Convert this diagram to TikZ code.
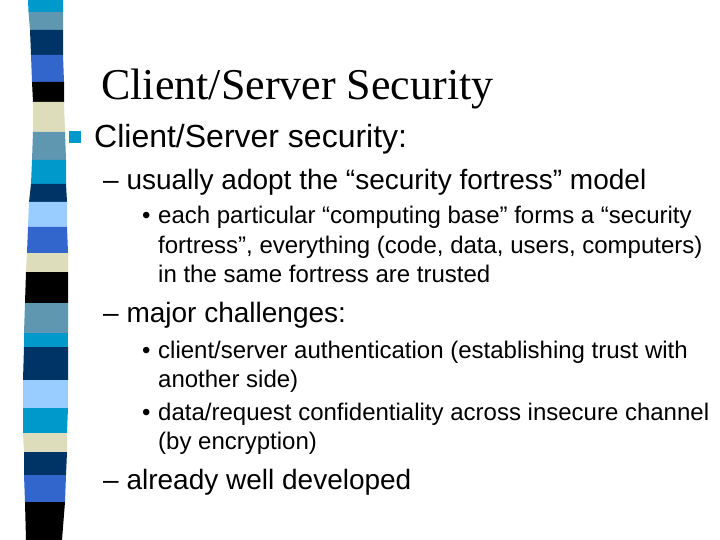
\documentclass[tikz,border=0pt]{standalone}
\usepackage{fontspec}
\setmainfont{Liberation Sans}
\newfontfamily\titlefont{Liberation Serif}
\definecolor{cy}{HTML}{0099CC}\definecolor{st}{HTML}{5F97B0}\definecolor{nv}{HTML}{003366}
\definecolor{ro}{HTML}{3366CC}\definecolor{bk}{HTML}{000000}\definecolor{be}{HTML}{DDDDBB}
\definecolor{lb}{HTML}{99CCFF}
\begin{document}
\begin{tikzpicture}[x=1pt,y=-1pt,
  t/.style={anchor=base west,inner sep=0pt,font=\fontsize{28}{32}\selectfont},
  s/.style={anchor=base west,inner sep=0pt,font=\fontsize{24}{28}\selectfont}]
\useasboundingbox[fill=white] (0,0) rectangle (720,540);
\def\band#1#2#3#4#5#6#7{\fill[#1] (#2,#6) -- (#3,#6) -- (#5,#7) -- (#4,#7) -- cycle;}
\band{cy}{28}{63}{28.5}{63}{0}{12}
\band{st}{28.5}{63}{30}{63}{12}{30}
\band{nv}{30}{63}{31}{63}{30}{55}
\band{ro}{31}{63}{32}{64}{55}{82}
\band{bk}{32}{64}{33}{64}{82}{102}
\band{be}{33}{64}{33}{65}{102}{132}
\band{st}{33}{65}{32}{66}{132}{160}
\band{cy}{32}{66}{31}{66}{160}{184}
\band{nv}{31}{66}{29}{67}{184}{202}
\band{lb}{29}{67}{28}{67}{202}{227}
\band{ro}{28}{67}{27}{68}{227}{253}
\band{be}{27}{68}{26}{68}{253}{272}
\band{bk}{26}{68}{25}{68}{272}{303}
\band{st}{25}{68}{24}{68}{303}{333}
\band{cy}{24}{68}{24}{68}{333}{347}
\band{nv}{24}{68}{23}{68}{347}{380}
\band{lb}{23}{68}{23}{68}{380}{408}
\band{cy}{23}{68}{23}{67}{408}{433}
\band{be}{23}{67}{24}{67}{433}{452}
\band{nv}{24}{67}{24}{66}{452}{475}
\band{ro}{24}{66}{25}{65}{475}{502}
\band{bk}{25}{65}{26}{62}{502}{540}
\node[anchor=base west,inner sep=0pt,font=\titlefont\fontsize{44}{50}\selectfont] (title) at (101,100) {Client/Server Security};
\fill[cy] (69,131) rectangle (81,143);
\node[anchor=base west,inner sep=0pt,font=\fontsize{32}{36}\selectfont] (l1) at (94,148) {Client/Server security:};
\node[t] (a) at (103,190) {– usually adopt the “security fortress” model};
\node[s] (b1) at (142,224) {•};
\node[s] (b1t) at (158,224) {each particular “computing base” forms a “security};
\node[s] (b1u) at (158,253) {fortress”, everything (code, data, users, computers)};
\node[s] (b1v) at (158,282) {in the same fortress are trusted};
\node[t] (m) at (103,322) {– major challenges:};
\node[s] (b2) at (142,358) {•};
\node[s] (b2t) at (158,358) {client/server authentication (establishing trust with};
\node[s] (b2u) at (158,387) {another side)};
\node[s] (b3) at (142,420) {•};
\node[s] (b3t) at (158,420) {data/request confidentiality across insecure channel};
\node[s] (b3u) at (158,449) {(by encryption)};
\node[t] (w) at (103,489) {– already well developed};
\end{tikzpicture}
\end{document}
